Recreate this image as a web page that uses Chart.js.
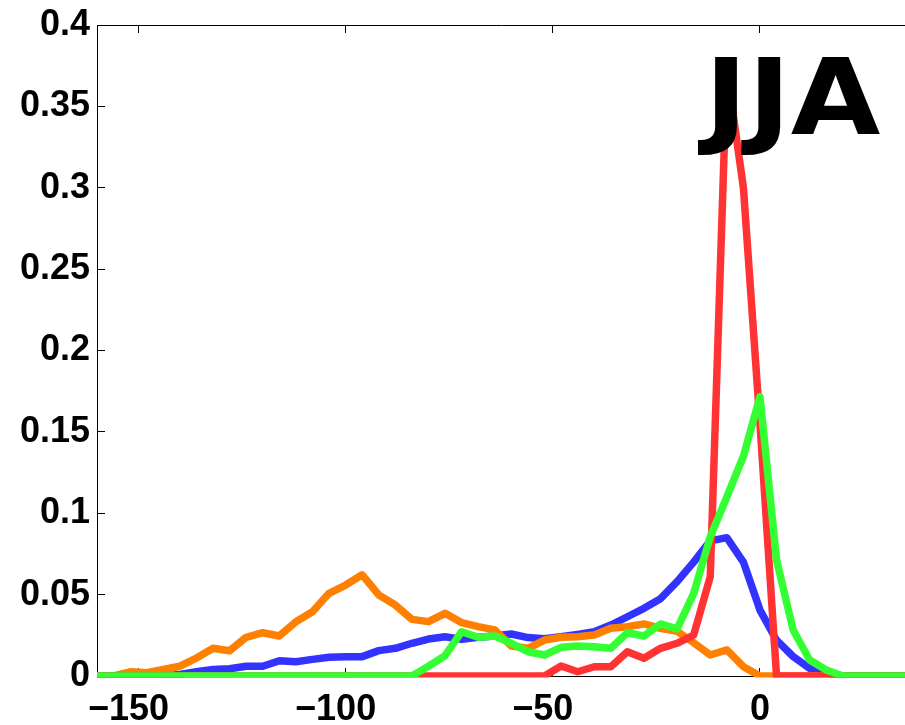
<!DOCTYPE html>
<html>
<head>
<meta charset="utf-8">
<script src="https://cdn.jsdelivr.net/npm/chart.js@4.4.1/dist/chart.umd.min.js"></script>
<style>
  html, body { margin: 0; padding: 0; background: #ffffff; }
  #wrap { width: 905px; height: 725px; }
</style>
</head>
<body>
<div id="wrap"><canvas id="c" width="905" height="725"></canvas></div>
<script>
// Bin centres (x) and the four series (y)
const bins = [-160,-156,-152,-148,-144,-140,-136,-132,-128,-124,-120,-116,-112,-108,-104,-100,-96,-92,-88,-84,-80,-76,-72,-68,-64,-60,-56,-52,-48,-44,-40,-36,-32,-28,-24,-20,-16,-12,-8,-4,0,4,8,12,16,20,24,28,32,36];

const blueSeries = [0,0,0,0,0,0.001,0.0026,0.004,0.0045,0.006,0.006,0.0094,0.0088,0.0102,0.0115,0.0119,0.0119,0.0156,0.017,0.0201,0.0227,0.0241,0.0225,0.0238,0.0246,0.0258,0.0236,0.0229,0.0241,0.0256,0.0272,0.0313,0.0364,0.0416,0.0475,0.058,0.070,0.083,0.085,0.070,0.0405,0.022,0.012,0.0047,0.0016,0,0,0,0,0];

const orangeSeries = [0,0,0.0026,0.002,0.004,0.006,0.011,0.017,0.0155,0.0238,0.0266,0.0246,0.0333,0.0395,0.0508,0.0559,0.0622,0.0498,0.0436,0.0348,0.0334,0.0385,0.0328,0.0303,0.0283,0.0184,0.017,0.0221,0.0238,0.0241,0.0252,0.0293,0.0303,0.032,0.0293,0.0275,0.0205,0.0129,0.016,0.0057,0,0,0,0,0,0,0,0,0,0];

const redSeries = [0,0,0,0,0,0,0,0,0,0,0,0,0,0,0,0,0,0,0,0,0,0,0,0,0,0,0,0,0.0061,0.0026,0.0057,0.0057,0.0149,0.0109,0.017,0.0201,0.0252,0.061,0.373,0.30,0.155,0,0,0,0,0,0,0,0,0];

const greenSeries = [0,0,0,0,0,0,0,0,0,0,0,0,0,0,0,0,0,0,0,0,0.006,0.0125,0.0272,0.0238,0.0246,0.0201,0.0149,0.0129,0.0176,0.0184,0.018,0.017,0.0266,0.0246,0.032,0.029,0.0508,0.0856,0.110,0.135,0.1716,0.0713,0.0283,0.0098,0.0037,0,0,0,0,0];

const xTicks = [-150, -100, -50, 0];
const yTicks = [0, 0.05, 0.1, 0.15, 0.2, 0.25, 0.3, 0.35, 0.4];
const panelLabel = 'JJA';

const toPoints = (arr) => arr.map((v, i) => ({ x: bins[i], y: v }));

const tickFont = { family: '"Liberation Sans", Arial, sans-serif', size: 36, weight: 'bold' };

function lineDs(label, data, color) {
  return {
    label, data: toPoints(data),
    borderColor: color, backgroundColor: color,
    borderWidth: 7.5, pointRadius: 0, tension: 0,
    borderJoinStyle: 'round', borderCapStyle: 'round',
    clip: { left: 0, top: 0, right: 0, bottom: 1.5 }
  };
}

const panelLabelPlugin = {
  id: 'panelLabel',
  afterDatasetsDraw(chart) {
    const ctx = chart.ctx;
    ctx.save();
    const size = 105;
    ctx.font = 'bold ' + size + 'px "DejaVu Sans"';
    ctx.fillStyle = '#000000';
    ctx.textBaseline = 'alphabetic';
    ctx.textAlign = 'left';
    const m = ctx.measureText(panelLabel);
    const inkW = m.actualBoundingBoxLeft + m.actualBoundingBoxRight;
    const sx = 182 / inkW;
    ctx.translate(698, 134);
    ctx.scale(sx, 1);
    ctx.fillText(panelLabel, m.actualBoundingBoxLeft, 0);
    ctx.restore();
  }
};

new Chart(document.getElementById('c'), {
  type: 'line',
  data: {
    datasets: [
      lineDs('green', greenSeries, '#33ff33'),
      lineDs('red', redSeries, '#ff3333'),
      lineDs('orange', orangeSeries, '#ff8000'),
      lineDs('blue', blueSeries, '#3333ff')
    ]
  },
  options: {
    responsive: false,
    animation: false,
    events: [],
    layout: { padding: { top: 25, right: 0, bottom: 0, left: 0 } },
    plugins: { legend: { display: false }, tooltip: { enabled: false }, title: { display: false } },
    scales: {
      x: {
        type: 'linear', position: 'bottom', min: -160, max: 35,
        afterBuildTicks: (s) => { s.ticks = xTicks.map(v => ({ value: v })); },
        afterFit: (s) => { s.height = 49; s.paddingLeft = 0; s.paddingRight = 0; },
        border: { display: true, color: '#000000', width: 1 },
        grid: { drawOnChartArea: false, drawTicks: true, tickLength: -8, color: '#000000' },
        ticks: {
          font: tickFont, color: '#000000', padding: 20, maxRotation: 0, autoSkip: false,
          callback: (v) => v < 0 ? '\u2212' + Math.abs(v) + '  ' : String(v)
        }
      },
      x2: {
        type: 'linear', position: 'top', min: -160, max: 35,
        afterBuildTicks: (s) => { s.ticks = xTicks.map(v => ({ value: v })); },
        afterFit: (s) => { s.height = 0; s.paddingLeft = 0; s.paddingRight = 0; },
        border: { display: true, color: '#000000', width: 1 },
        grid: { drawOnChartArea: false, drawTicks: true, tickLength: -8, color: '#000000' },
        ticks: { display: false }
      },
      y: {
        type: 'linear', position: 'left', min: 0, max: 0.4,
        afterBuildTicks: (s) => { s.ticks = yTicks.map(v => ({ value: v })); },
        afterFit: (s) => { s.width = 97; s.paddingTop = 0; s.paddingBottom = 0; },
        border: { display: true, color: '#000000', width: 1 },
        grid: { drawOnChartArea: false, drawTicks: true, tickLength: -8, color: '#000000' },
        ticks: {
          font: tickFont, color: '#000000', padding: 15, autoSkip: false,
          callback: (v) => String(Math.round(v * 100) / 100)
        }
      }
    }
  },
  plugins: [panelLabelPlugin]
});
</script>
</body>
</html>
